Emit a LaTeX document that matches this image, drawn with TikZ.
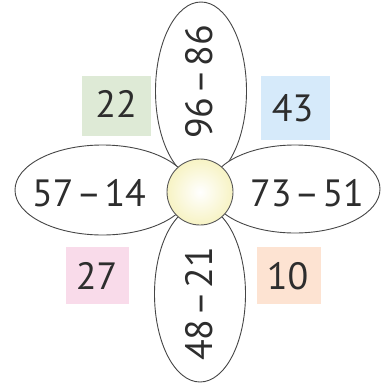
\documentclass[tikz,border=0pt]{standalone}
\usepackage{fontspec}
\setmainfont{PT Sans}
\usetikzlibrary{shapes.geometric}
\definecolor{gbox}{RGB}{222,234,214}
\definecolor{bbox}{RGB}{214,234,250}
\definecolor{pbox}{RGB}{249,219,234}
\definecolor{obox}{RGB}{253,227,210}
\definecolor{ink}{RGB}{45,45,45}
\definecolor{edge}{RGB}{70,70,70}
\definecolor{centre}{RGB}{247,243,196}
\newcommand{\mydash}{\hspace{3pt}–\hspace{3pt}}
\begin{document}
\begin{tikzpicture}[x=1pt,y=-1pt,
  petal/.style={draw=edge, line width=0.9pt, fill=white, ellipse, inner sep=0pt},
  num/.style={font=\fontsize{38}{40}\selectfont, text=ink, inner sep=0pt}]
\useasboundingbox (0,0) rectangle (381,383);
% petals
\node[petal, minimum width=91pt, minimum height=178pt] (ptop) at (201,91) {};
\node[petal, minimum width=91pt, minimum height=176pt] (pbot) at (200,294) {};
\node[petal, minimum width=175pt, minimum height=90pt] (pleft) at (102.5,190) {};
\node[petal, minimum width=170pt, minimum height=88pt] (pright) at (295,189) {};
% centre
\node[circle, minimum size=66pt, draw=edge!90, line width=0.9pt, inner color=white, outer color=centre, inner sep=0pt] (c) at (200,192) {};
% petal labels
\node[num, rotate=90] (ttop) at (199,82) {96\mydash 86};
\node[num, rotate=90] (tbot) at (199,304) {48\mydash 21};
\node[num] (tleft) at (89,193) {57\mydash 14};
\node[num] (tright) at (307,193) {73\mydash 51};
% answer boxes
\fill[gbox] (82,76) rectangle (151,136);
\fill[bbox] (260.5,76) rectangle (330,140);
\fill[pbox] (65.5,247) rectangle (129,304);
\fill[obox] (256.5,247) rectangle (320.5,304);
\node[num] (a22) at (116,104) {22};
\node[num] (a43) at (292.5,108) {43};
\node[num] (a27) at (96.7,276) {27};
\node[num] (a10) at (287.5,276) {10};
\end{tikzpicture}
\end{document}
